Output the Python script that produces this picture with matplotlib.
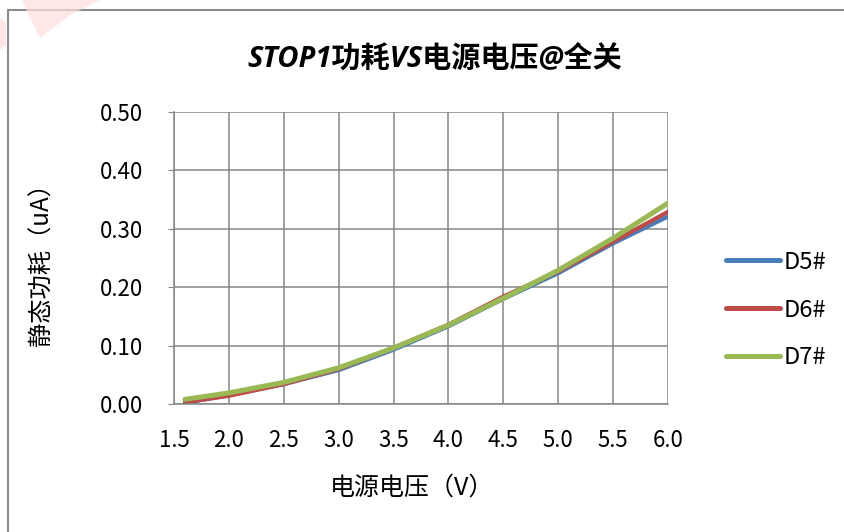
import matplotlib
matplotlib.use("Agg")
import matplotlib.pyplot as plt
from matplotlib.patches import Rectangle, Polygon

plt.rcParams['font.family'] = ['Noto Sans CJK SC', 'DejaVu Sans']

# ---------------------------------------------------------------------
# 数据
voltage = [1.6, 2.0, 2.5, 3.0, 3.5, 4.0, 4.5, 5.0, 5.5, 6.0]
d5 = [0.002, 0.015, 0.034, 0.058, 0.093, 0.133, 0.180, 0.224, 0.275, 0.321]
d6 = [0.003, 0.014, 0.034, 0.060, 0.096, 0.136, 0.184, 0.227, 0.278, 0.329]
d7 = [0.008, 0.019, 0.037, 0.062, 0.096, 0.135, 0.181, 0.229, 0.284, 0.344]
names = ['D5#', 'D6#', 'D7#']
colors = ['#4A7EBB', '#BE4B48', '#98B954']
x_ticks = [1.5, 2.0, 2.5, 3.0, 3.5, 4.0, 4.5, 5.0, 5.5, 6.0]
y_ticks = [0.0, 0.1, 0.2, 0.3, 0.4, 0.5]

W, H = 845, 532
fig = plt.figure(figsize=(W / 100, H / 100), dpi=100)
fig.patch.set_facecolor('white')

# 图表外框（右、下边超出画面）
fig.patches.append(Rectangle((8 / W, -0.1), 1.2, 1.1 - 10 / H, transform=fig.transFigure,
                             fill=False, edgecolor='#8C8C8C', lw=1.5, zorder=0))
# 左上角淡红色水印
fig.patches.append(Polygon([(22 / W, 1), (100 / W, 1), (70 / W, 1 - 15 / H),
                            (40 / W, 1 - 38 / H), (30 / W, 1 - 18 / H)],
                           closed=True, transform=fig.transFigure,
                           facecolor='#FFDEDE', edgecolor='none', alpha=0.7, zorder=0))
fig.patches.append(Polygon([(0, 1 - 18 / H), (6 / W, 1 - 22 / H), (6 / W, 1 - 45 / H), (0, 1 - 50 / H)],
                           closed=True, transform=fig.transFigure,
                           facecolor='#FFDEDE', edgecolor='none', alpha=0.7, zorder=0))

ax = fig.add_axes([174 / W, 1 - 404 / H, (668 - 174) / W, (404 - 112) / H])
ax.set_xlim(1.5, 6.0)
ax.set_ylim(0, 0.5)
ax.set_xticks(x_ticks)
ax.set_yticks(y_ticks)
ax.set_xticklabels(['%.1f' % v for v in x_ticks])
ax.set_yticklabels(['%.2f' % v for v in y_ticks])
ax.grid(True, color='#868686', lw=1.1)
ax.set_axisbelow(True)
for s in ['top', 'right']:
    ax.spines[s].set_visible(False)
for s in ['left', 'bottom']:
    ax.spines[s].set_color('#868686')
    ax.spines[s].set_linewidth(1.1)
ax.tick_params(axis='y', length=4, color='#868686', labelsize=16, pad=18)
ax.tick_params(axis='x', length=0, labelsize=16, pad=18)

widths = [3.0, 3.0, 3.6]
for ys, name, c, lw in zip([d5, d6, d7], names, colors, widths):
    ax.plot(voltage, ys, color=c, lw=lw, label=name, solid_capstyle='round')

# 轴标题
fig.text(412 / W, 1 - 488 / H, '电源电压（V）', fontsize=18, ha='center', va='center')
fig.text(42 / W, 1 - 258 / H, '静态功耗（uA）', fontsize=17.5, ha='center', va='center',
         rotation=90)

fig.text(435 / W, 1 - 60 / H, 'STOP1功耗VS电源电压@全关', fontsize=21,
         fontweight='bold', style='italic', ha='center', va='center',
         family=['Open Sans', 'Noto Sans CJK SC'])

leg = ax.legend(loc='center left', bbox_to_anchor=(726 / W, 1 - 310 / H),
                bbox_transform=fig.transFigure, frameon=False, fontsize=17,
                borderpad=0, borderaxespad=0,
                handlelength=2.3, labelspacing=1.05, handletextpad=0.15)
for line in leg.get_lines():
    line.set_linewidth(3.6)
    line.set_solid_capstyle('round')

fig.savefig('out.png', dpi=100)
